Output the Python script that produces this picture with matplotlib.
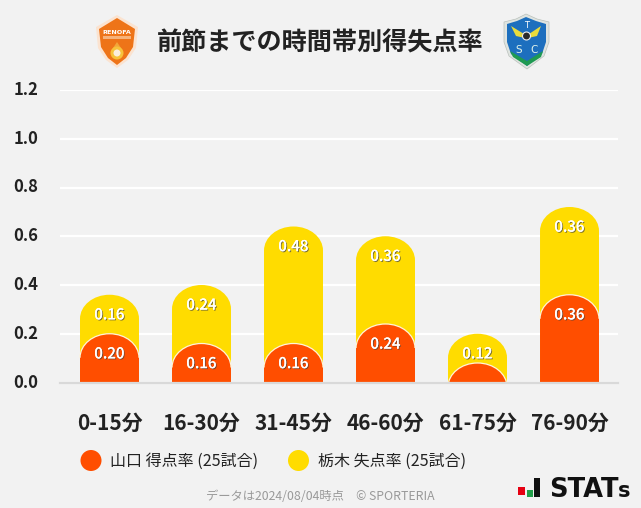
import numpy as np
import matplotlib
matplotlib.use('Agg')
import matplotlib.pyplot as plt
import matplotlib.patheffects as pe
from matplotlib.path import Path
from matplotlib.patches import PathPatch, Polygon, Rectangle, Circle, Ellipse
from matplotlib.transforms import ScaledTranslation

plt.rcParams['font.family'] = ['Noto Sans CJK JP', 'DejaVu Sans']

categories = ['0-15分', '16-30分', '31-45分', '46-60分', '61-75分', '76-90分']
yamaguchi = [0.20, 0.16, 0.16, 0.24, 0.08, 0.36]
tochigi = [0.16, 0.24, 0.48, 0.36, 0.12, 0.36]
y_ticks = [0.0, 0.2, 0.4, 0.6, 0.8, 1.0, 1.2]

title = '前節までの時間帯別得失点率'
legend_a = '山口 得点率 (25試合)'
legend_b = '栃木 失点率 (25試合)'
footer = 'データは2024/08/04時点\u3000© SPORTERIA'

BG = '#f2f2f2'
RED = '#ff4e00'
YEL = '#ffdc00'
W, H = 641, 508
BAR_W = 0.641
CAP_H = 0.0985
K = 0.5523


def rounded_bar(x, top, w=BAR_W, cap=CAP_H):
    # bar with an elliptical top, starts below 0 so the axes clips short ones
    r = w / 2
    s = top - cap
    base = min(s, 0)
    verts = [(x - r, base), (x - r, s),
             (x - r, s + K * cap), (x - K * r, top), (x, top),
             (x + K * r, top), (x + r, s + K * cap), (x + r, s),
             (x + r, base), (x - r, base)]
    codes = [Path.MOVETO, Path.LINETO,
             Path.CURVE4, Path.CURVE4, Path.CURVE4,
             Path.CURVE4, Path.CURVE4, Path.CURVE4,
             Path.LINETO, Path.CLOSEPOLY]
    return Path(verts, codes)


def cap_arc(x, top, w=BAR_W, cap=CAP_H):
    r = w / 2
    s = top - cap
    verts = [(x - r, s), (x - r, s + K * cap), (x - K * r, top), (x, top),
             (x + K * r, top), (x + r, s + K * cap), (x + r, s)]
    codes = [Path.MOVETO, Path.CURVE4, Path.CURVE4, Path.CURVE4,
             Path.CURVE4, Path.CURVE4, Path.CURVE4]
    return Path(verts, codes)


fig = plt.figure(figsize=(W / 100, H / 100), dpi=100, facecolor=BG)
ax = fig.add_axes([60 / W, 1 - 382.5 / H, 558 / W, 292.5 / H], facecolor=BG)
ax.set_xlim(-0.538, 5.527)
ax.set_ylim(0, 1.2)

for sp in ['top', 'left', 'right']:
    ax.spines[sp].set_visible(False)
ax.spines['bottom'].set_color('#d9d9d9')
ax.spines['bottom'].set_linewidth(1.6)
ax.spines['bottom'].set_zorder(6)

ax.yaxis.grid(True, color='white', linewidth=1.6, zorder=0)
ax.set_axisbelow(True)
ax.set_yticks(y_ticks)
ax.set_yticklabels([f'{v:.1f}' for v in y_ticks], fontsize=12, fontweight='bold', color='#222222')
ax.set_xticks(range(len(categories)))
ax.set_xticklabels(categories, fontsize=15, fontweight='bold', color='#222222')
ax.tick_params(axis='both', length=0)
ax.tick_params(axis='y', pad=15.5)
ax.tick_params(axis='x', pad=21.5)
up = ScaledTranslation(0, 2 / 100, fig.dpi_scale_trans)
for lab in ax.get_yticklabels():
    lab.set_transform(lab.get_transform() + up)

shadow = [pe.withSimplePatchShadow(offset=(0.7, -0.7), shadow_rgbFace='#444444', alpha=0.7), pe.Normal()]

for i, (a, b) in enumerate(zip(yamaguchi, tochigi)):
    total = a + b
    ax.add_patch(PathPatch(rounded_bar(i, total), facecolor=YEL, edgecolor='none', zorder=2))
    ax.add_patch(PathPatch(rounded_bar(i, a), facecolor=RED, edgecolor='none', zorder=3))
    ax.add_patch(PathPatch(cap_arc(i, a), facecolor='none', edgecolor='#fff4d8', linewidth=0.9, zorder=4))
    ax.annotate(f'{b:.2f}', (i, total), xytext=(0, -14.5), textcoords='offset points', ha='center', va='center',
                fontsize=10.8, fontweight='medium', color='white', path_effects=shadow, zorder=5)
    # the short bar has no room for a label in the original
    if a >= 0.1:
        ax.annotate(f'{a:.2f}', (i, a), xytext=(0, -14.5), textcoords='offset points', ha='center', va='center',
                    fontsize=10.8, fontweight='medium', color='white', path_effects=shadow, zorder=5)

# overlay in pixel coordinates for title, legend and logos
ov = fig.add_axes([0, 0, 1, 1], facecolor='none')
ov.set_xlim(0, W)
ov.set_ylim(H, 0)
ov.axis('off')

ov.text(320, 43, title, ha='center', va='center', fontsize=18.1, fontweight='bold', color='#222222')

ov.add_patch(Circle((91, 460.5), 10.5, facecolor=RED, edgecolor='none'))
ov.add_patch(Circle((298.5, 460.5), 10.5, facecolor=YEL, edgecolor='none'))
ov.text(110, 461, legend_a, ha='left', va='center', fontsize=11.5, color='#222222')
ov.text(318, 461, legend_b, ha='left', va='center', fontsize=11.5, color='#222222')
ov.text(320.5, 497, footer, ha='center', va='center', fontsize=8.85, color='#999999')

# stats logo
ov.add_patch(Rectangle((518, 487), 7, 8, facecolor='#e60012', edgecolor='none'))
ov.add_patch(Rectangle((527, 490), 6, 7, facecolor='#22a04a', edgecolor='none'))
ov.add_patch(Rectangle((534, 478), 6, 19, facecolor='#111111', edgecolor='none'))
ov.text(549, 497, 'STAT', ha='left', va='baseline', fontsize=18.5, fontweight='bold', family='DejaVu Sans', color='#111111')
ov.text(618, 497, 's', ha='left', va='baseline', fontsize=15, fontweight='bold', family='DejaVu Sans', color='#111111')

# renofa crest
ren_out = [(117, 15), (138, 27), (136, 48), (128, 60), (117, 68), (106, 60), (98, 48), (96, 27)]
ren_in = [(117, 18), (135, 29), (133, 47), (126, 58), (117, 65), (108, 58), (101, 47), (99, 29)]
ov.add_patch(Polygon(ren_out, closed=True, facecolor='#fbe3d0', edgecolor='none'))
ov.add_patch(Polygon(ren_in, closed=True, facecolor='#ee7418', edgecolor='none'))
ov.text(117, 32, 'RENOFA', ha='center', va='center', fontsize=4.6, fontweight='bold', color='white', family='DejaVu Sans')
ov.add_patch(Rectangle((103, 36), 28, 3, facecolor='#f6b27a', edgecolor='none'))
ov.add_patch(Polygon([(117, 42), (121, 48), (113, 48)], closed=True, facecolor='#f2a63a', edgecolor='none'))
ov.add_patch(Circle((117, 53), 6.5, facecolor='#f7c23c', edgecolor='none'))
ov.add_patch(Circle((117, 53), 3.5, facecolor='#fbeedd', edgecolor='none'))

# tochigi crest
toc_out = [(504, 22), (516, 19), (526, 14), (537, 19), (549, 22), (549, 42), (544, 56), (527, 69), (509, 56), (504, 42)]
toc_in = [(507, 24), (517, 21), (526, 17), (536, 21), (546, 24), (546, 42), (542, 54), (527, 66), (511, 54), (507, 42)]
ov.add_patch(Polygon(toc_out, closed=True, facecolor='#dfe4e0', edgecolor='#b9c0bb', linewidth=0.5))
ov.add_patch(Polygon(toc_in, closed=True, facecolor='#1d6fbe', edgecolor='none'))
ov.add_patch(Polygon([(510, 51), (527, 61), (543, 51), (541, 57), (527, 66), (513, 57)], closed=True,
                     facecolor='#1f9a52', edgecolor='none'))
ov.add_patch(Polygon([(511, 26), (524, 34), (525, 38), (516, 36)], closed=True, facecolor='#e8dc3c', edgecolor='none'))
ov.add_patch(Polygon([(541, 26), (529, 34), (528, 38), (537, 36)], closed=True, facecolor='#e8dc3c', edgecolor='none'))
ov.add_patch(Ellipse((526.5, 36), 8, 8, facecolor='#2b2b2b', edgecolor='#eeeeee', linewidth=0.8))
ov.text(526.5, 26, 'T', ha='center', va='center', fontsize=6, color='white', family='DejaVu Sans')
ov.text(519, 50, 'S', ha='center', va='center', fontsize=7.5, color='#dff2ea', family='DejaVu Sans')
ov.text(534, 50, 'C', ha='center', va='center', fontsize=7.5, color='#dff2ea', family='DejaVu Sans')

fig.savefig('out.png', dpi=100, facecolor=BG)
